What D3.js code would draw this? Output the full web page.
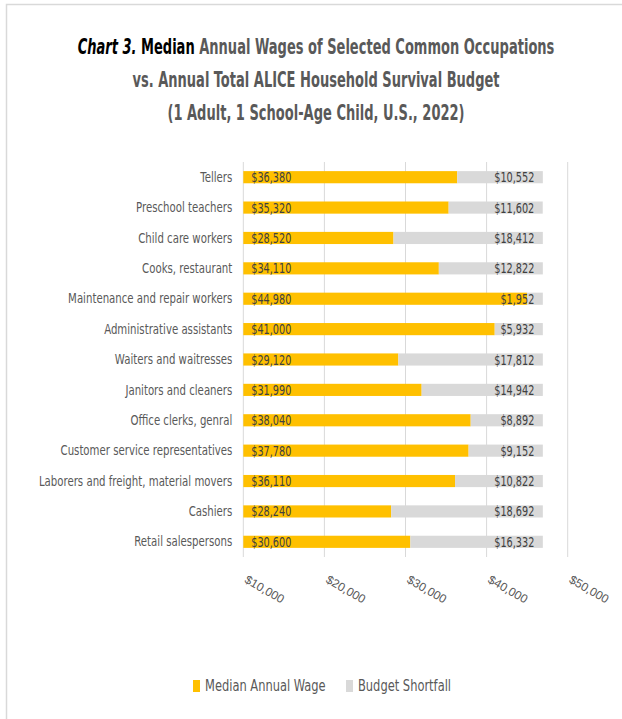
<!DOCTYPE html>
<html>
<head>
<meta charset="utf-8">
<script src="https://cdn.jsdelivr.net/npm/d3@7"></script>
<style>
body { margin: 0; background: #fff; }
svg text { font-family: "DejaVu Sans Condensed", "DejaVu Sans", sans-serif; }
</style>
</head>
<body>
<div id="chart"></div>
<script>

var occupations = ["Tellers", "Preschool teachers", "Child care workers", "Cooks, restaurant",
  "Maintenance and repair workers", "Administrative assistants", "Waiters and waitresses",
  "Janitors and cleaners", "Office clerks, genral", "Customer service representatives",
  "Laborers and freight, material movers", "Cashiers", "Retail salespersons"]
var wages = [36380, 35320, 28520, 34110, 44980, 41000, 29120, 31990, 38040, 37780, 36110, 28240, 30600]
var shortfall = [10552, 11602, 18412, 12822, 1952, 5932, 17812, 14942, 8892, 9152, 10822, 18692, 16332]
var xTicks = [10000, 20000, 30000, 40000, 50000]
var seriesNames = ["Median Annual Wage", "Budget Shortfall"]
var colors = ["#FFC000", "#D9D9D9"]

var W = 622, H = 719

var margins = {top: 162, left: 243.3, right: 54.3, bottom: 162}
var width = W - margins.left - margins.right
var height = 557 - margins.top

// no narrow font installed, so squeeze text sideways
var squeeze = function(sel, k){
  sel.each(function(){
    var t = d3.select(this)
    var x0 = +t.attr("x") || 0
    t.attr("x", x0 / k).attr("transform", "scale(" + k + ",1)")
  })
}

var svg = d3.select("#chart").append("svg")
  .attr("width", W)
  .attr("height", H)

// chart frame (cut off at right and bottom)
svg.append("path")
  .attr("d", "M6.5," + H + " V4.5 H" + W)
  .attr("fill", "none")
  .attr("stroke", "#D9D9D9")
  .attr("stroke-width", 1.5)

// title
var title = svg.append("g")
  .attr("transform", "translate(316,0) scale(0.69,1)")
  .append("text")
  .attr("text-anchor", "middle")
  .style("font-size", "21px")
  .style("font-weight", "bold")
  .style("fill", "#595959")
var l1 = title.append("tspan").attr("x", 0).attr("y", 54)
l1.append("tspan").style("font-style", "italic").style("fill", "#000").text("Chart 3.")
l1.append("tspan").style("fill", "#000").text(" Median")
l1.append("tspan").text(" Annual Wages of Selected Common Occupations")
title.append("tspan").attr("x", 0).attr("y", 87).text("vs. Annual Total ALICE Household Survival Budget")
title.append("tspan").attr("x", 0).attr("y", 120).text("(1 Adult, 1 School-Age Child, U.S., 2022)")

var x = d3.scaleLinear().domain([10000, 50000]).range([0, width])
var y = d3.scaleBand().domain(occupations).range([0, height]).paddingInner(0.6).paddingOuter(0.3)

var g = svg.append("g")
  .attr("transform", "translate(" + margins.left + "," + margins.top + ")")

// gridlines
g.selectAll(".grid")
  .data(xTicks)
  .enter()
  .append("line")
  .attr("class", "grid")
  .attr("x1", function(d){ return x(d) })
  .attr("x2", function(d){ return x(d) })
  .attr("y1", 0)
  .attr("y2", height)
  .style("stroke", "#D9D9D9")
  .style("stroke-width", "1px")

var rows = occupations.map(function(d, i){
  return {name: d, wage: wages[i], short: shortfall[i]}
})

// wage bars (axis starts at 10,000 so bars start there)
g.selectAll(".wage")
  .data(rows)
  .enter()
  .append("rect")
  .attr("class", "wage")
  .attr("x", x(10000))
  .attr("y", function(d){ return y(d.name) })
  .attr("width", function(d){ return x(d.wage) - x(10000) })
  .attr("height", y.bandwidth())
  .style("fill", colors[0])

g.selectAll(".short")
  .data(rows)
  .enter()
  .append("rect")
  .attr("class", "short")
  .attr("x", function(d){ return x(d.wage) })
  .attr("y", function(d){ return y(d.name) })
  .attr("width", function(d){ return x(d.wage + d.short) - x(d.wage) })
  .attr("height", y.bandwidth())
  .style("fill", colors[1])

var fmt = d3.format(",")

g.selectAll(".wlab")
  .data(rows)
  .enter()
  .append("text")
  .attr("class", "wlab")
  .attr("x", x(10000) + 8)
  .attr("y", function(d){ return y(d.name) + y.bandwidth() / 2 })
  .attr("dy", "0.36em")
  .style("font-size", "14px")
  .style("fill", "#404040")
  .text(function(d){ return "$" + fmt(d.wage) })
  .call(squeeze, 0.77)

g.selectAll(".slab")
  .data(rows)
  .enter()
  .append("text")
  .attr("class", "slab")
  .attr("x", function(d){ return x(d.wage + d.short) - 8.5 })
  .attr("y", function(d){ return y(d.name) + y.bandwidth() / 2 })
  .attr("dy", "0.36em")
  .attr("text-anchor", "end")
  .style("font-size", "14px")
  .style("fill", "#404040")
  .text(function(d){ return "$" + fmt(d.short) })
  .call(squeeze, 0.77)

// category axis
var yAxis = d3.axisLeft(y).tickSize(0).tickPadding(11)
var ya = g.append("g").call(yAxis)
ya.select(".domain").remove()
ya.selectAll("text")
  .style("font-size", "14.5px")
  .style("fill", "#595959")
  .call(squeeze, 0.78)

// value axis, rotated labels
var xAxis = d3.axisBottom(x).tickValues(xTicks).tickSize(0)
  .tickFormat(function(d){ return "$" + fmt(d) })
var xa = g.append("g")
  .attr("transform", "translate(0," + height + ")")
  .call(xAxis)
xa.select(".domain").remove()
xa.selectAll("text")
  .style("font-family", "'Liberation Sans', Arial, sans-serif")
  .style("font-size", "12px")
  .style("fill", "#595959")
  .attr("text-anchor", "start")
  .attr("dy", 0)
  .attr("y", 0)
  .attr("transform", "translate(0,25) rotate(30)")

// legend
var legend = svg.append("g").attr("transform", "translate(193,0)")
var lx = [0, 153]
seriesNames.forEach(function(name, i){
  legend.append("rect")
    .attr("x", lx[i])
    .attr("y", 680)
    .attr("width", 7)
    .attr("height", 12)
    .style("fill", colors[i])
  legend.append("text")
    .attr("x", lx[i] + 12)
    .attr("y", 691)
    .style("font-size", "15px")
    .style("fill", "#595959")
    .text(name)
    .call(squeeze, 0.85)
})

</script>
</body>
</html>
